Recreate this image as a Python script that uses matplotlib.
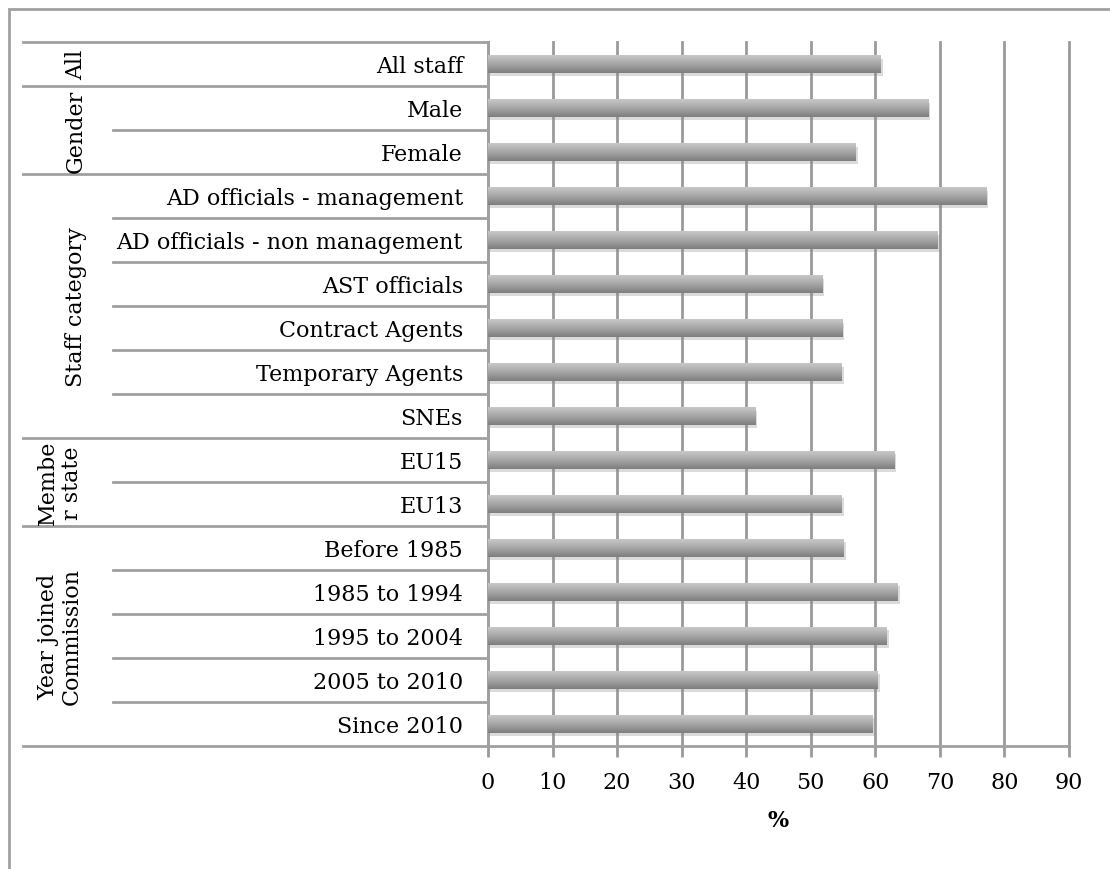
import matplotlib.pyplot as plt
import numpy as np
from matplotlib import patheffects
from matplotlib.colors import LinearSegmentedColormap
from matplotlib.lines import Line2D
from matplotlib.patches import Rectangle
from matplotlib.transforms import blended_transform_factory

# data
labels = ['All staff', 'Male', 'Female',
          'AD officials - management', 'AD officials - non management',
          'AST officials', 'Contract Agents', 'Temporary Agents', 'SNEs',
          'EU15', 'EU13',
          'Before 1985', '1985 to 1994', '1995 to 2004', '2005 to 2010', 'Since 2010']
values = [60.8, 68.2, 57.0,
          77.2, 69.7,
          51.8, 54.9, 54.8, 41.4,
          62.9, 54.8,
          55.1, 63.5, 61.8, 60.4, 59.6]
groups = ['All', 'Gender', 'Staff category', 'Membe\nr state', 'Year joined\nCommission']
group_sizes = [1, 2, 6, 2, 5]
xticks = [0, 10, 20, 30, 40, 50, 60, 70, 80, 90]

plt.rcParams['font.family'] = ['DejaVu Serif']
fs = 16
line_col = '#a0a0a0'
grid_col = '#9a9a9a'

fig = plt.figure(figsize=(11.1, 8.7), dpi=100)
ax = fig.add_axes([488 / 1110, 1 - 746.7 / 870, (1069 - 488) / 1110, (746.7 - 43) / 870])

y = np.arange(len(labels))
bars = ax.barh(y, values, height=0.4, color='#a0a0a0', zorder=3,
               path_effects=[patheffects.SimplePatchShadow(offset=(1.5, -2.5), shadow_rgbFace='#888888', alpha=0.3),
                             patheffects.Normal()])

# vertical gradient on each bar: light on top, dark at the bottom
grad = np.linspace(0, 1, 64).reshape(-1, 1)
cmap = LinearSegmentedColormap.from_list('g', ['#c8c8c8', '#a6a6a6', '#7e7e7e'])
for b in bars:
    x0, y0, w, h = b.get_x(), b.get_y(), b.get_width(), b.get_height()
    # y axis is inverted, so y0 is the visual top of the bar
    im = ax.imshow(grad, extent=[x0, x0 + w, y0 + h, y0], origin='upper', cmap=cmap,
                   aspect='auto', zorder=4, interpolation='bilinear')
    im.set_clip_path(b)

ax.set_xlim(0, 90)
ax.set_ylim(len(labels) - 0.5, -0.5)
ax.set_xticks(xticks)
ax.set_xticklabels([str(t) for t in xticks], fontsize=fs)
ax.set_yticks(y)
ax.set_yticklabels(labels, fontsize=fs)
ax.tick_params(axis='y', length=0, pad=18)
ax.tick_params(axis='x', length=8, width=2, color=grid_col, pad=10)
ax.set_xlabel('%', fontsize=fs, fontweight='bold', labelpad=12)

ax.grid(axis='x', color=grid_col, linewidth=2, zorder=0)
ax.set_axisbelow(True)
for gl in ax.get_xgridlines():
    gl.set_clip_on(False)
for s in ['top', 'right']:
    ax.spines[s].set_visible(False)
for s in ['left', 'bottom']:
    ax.spines[s].set_color(line_col)
    ax.spines[s].set_linewidth(2)

# category table on the left: x in figure fraction, y in data
tr = blended_transform_factory(fig.transFigure, ax.transData)
x_outer, x_inner, x_axis = 22.7 / 1110, 113 / 1110, 488 / 1110
start = 0
for name, n in zip(groups, group_sizes):
    top = start - 0.5
    fig.add_artist(Line2D([x_outer, x_axis], [top, top], transform=tr, color=line_col, lw=2))
    for k in range(1, n):
        yy = start + k - 0.5
        fig.add_artist(Line2D([x_inner, x_axis], [yy, yy], transform=tr, color=line_col, lw=2))
    xt = 60 / 1110 if '\n' in name else 76 / 1110
    fig.text(xt, start + (n - 1) / 2, name, transform=tr, rotation=90,
             ha='center', va='center', fontsize=fs, linespacing=1.1)
    start += n
fig.add_artist(Line2D([x_outer, x_axis], [start - 0.5, start - 0.5], transform=tr, color=line_col, lw=2))

# outer chart border (right and bottom edges fall outside the picture)
fig.add_artist(Rectangle((9 / 1110, -0.05), 1.2, 1 - 9.5 / 870 + 0.05, transform=fig.transFigure,
                         fill=False, edgecolor='#a0a0a0', lw=2))

fig.savefig('out.png', dpi=100)
